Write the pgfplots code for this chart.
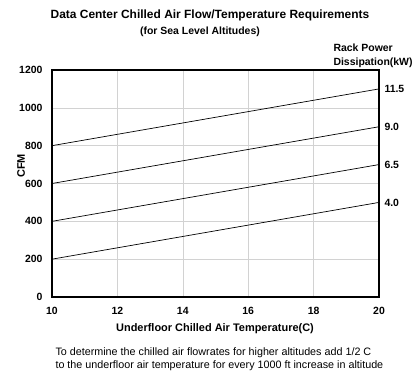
\documentclass[border=0pt]{standalone}
\usepackage{fontspec}
\setmainfont{Liberation Sans}
\usepackage{pgfplots}
\pgfplotsset{compat=1.18}
\begin{document}
\begin{tikzpicture}[x=1bp,y=1bp]
\begin{axis}[
  scale only axis, width=327bp, height=227bp,
  at={(0,0)}, anchor=south west,
  xmin=10, xmax=20, ymin=0, ymax=1200,
  xtick={10,12,...,20}, ytick={0,200,...,1200},
  grid=major, major grid style={gray!35, line width=0.6pt},
  major tick length=0pt,
  axis line style={line width=1.6pt},
  /pgf/number format/assume math mode=true,
  /pgf/number format/1000 sep={},
  ticklabel style={font=\fontsize{10.5}{12}\selectfont\bfseries},
  xticklabel style={yshift=-7bp},
  yticklabel style={xshift=-6bp},
  clip=false,
]
\addplot[black, line width=0.7pt] coordinates {(10,200) (20,500)};
\addplot[black, line width=0.7pt] coordinates {(10,400) (20,700)};
\addplot[black, line width=0.7pt] coordinates {(10,600) (20,900)};
\addplot[black, line width=0.7pt] coordinates {(10,800) (20,1100)};
\node[anchor=west, font=\fontsize{10.5}{12}\selectfont\bfseries, xshift=2bp] at (axis cs:20,500) {4.0};
\node[anchor=west, font=\fontsize{10.5}{12}\selectfont\bfseries, xshift=2bp] at (axis cs:20,700) {6.5};
\node[anchor=west, font=\fontsize{10.5}{12}\selectfont\bfseries, xshift=2bp] at (axis cs:20,900) {9.0};
\node[anchor=west, font=\fontsize{10.5}{12}\selectfont\bfseries, xshift=2bp] at (axis cs:20,1100) {11.5};
\end{axis}
\useasboundingbox (-52,-80) rectangle (366,297);
\node[font=\fontsize{12}{14}\selectfont\bfseries] at (158,282) {Data Center Chilled Air Flow/Temperature Requirements};
\node[font=\fontsize{10.5}{12}\selectfont\bfseries] at (148,265) {(for Sea Level Altitudes)};
\node[anchor=west, font=\fontsize{10.5}{12}\selectfont\bfseries] at (278,249) {Rack Power};
\node[anchor=west, font=\fontsize{10.5}{12}\selectfont\bfseries] at (278,234) {Dissipation(kW)};
\node[font=\fontsize{11}{13}\selectfont\bfseries] at (163,-32) {Underfloor Chilled Air Temperature(C)};
\node[rotate=90, font=\fontsize{11}{13}\selectfont\bfseries] at (-31,131) {CFM};
\node[anchor=west, font=\fontsize{10.8}{12}\selectfont] at (0,-56) {To determine the chilled air flowrates for higher altitudes add 1/2 C};
\node[anchor=west, font=\fontsize{10.8}{12}\selectfont] at (0,-69) {to the underfloor air temperature for every 1000 ft increase in altitude};
\end{tikzpicture}
\end{document}
